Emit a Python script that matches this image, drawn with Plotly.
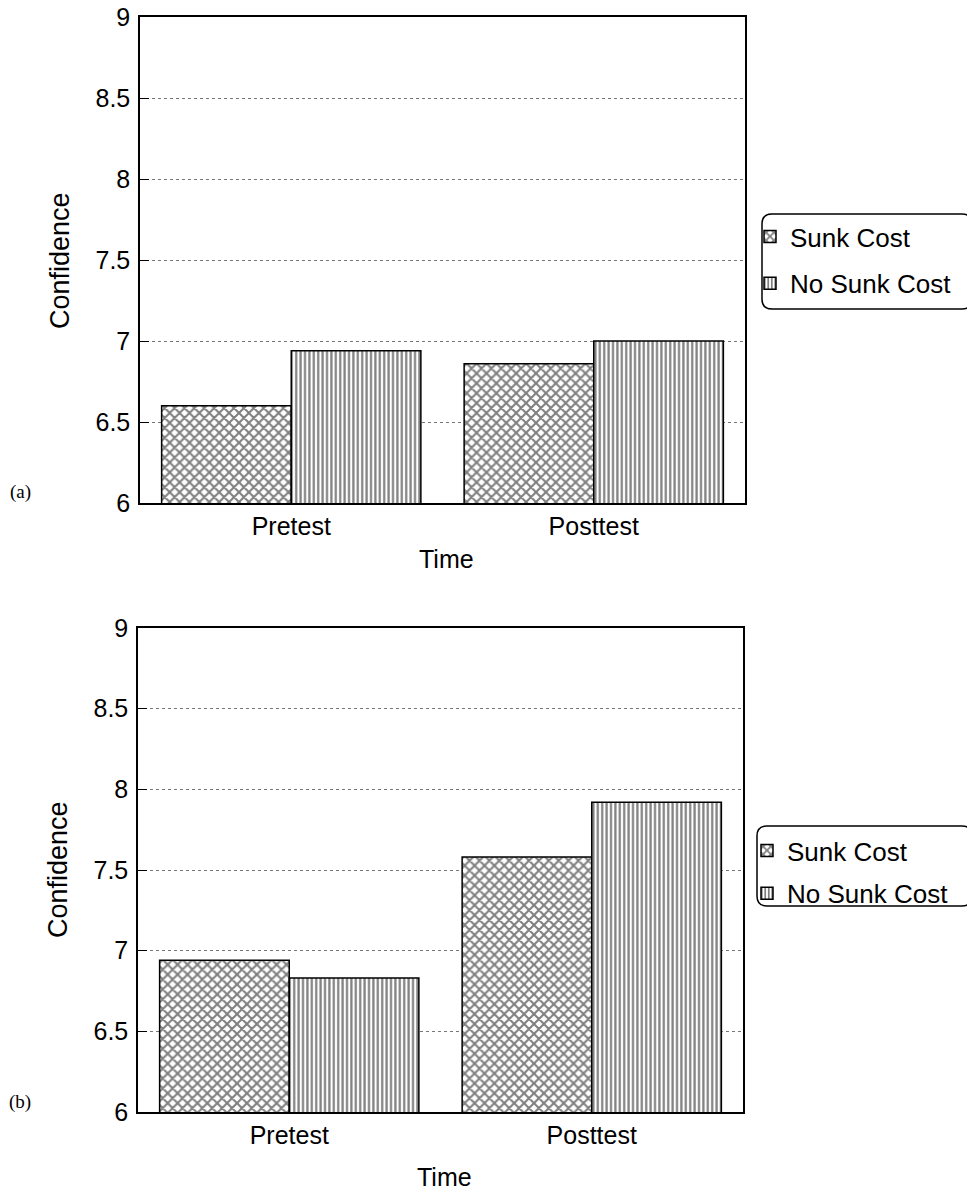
import plotly.graph_objects as go

# page body has an 8px margin; figure sized to fill the rest of the 975x1191 window
OFF = 8
W, H = 975 - OFF, 1191 - OFF

categories = ["Pretest", "Posttest"]
series_names = ["Sunk Cost", "No Sunk Cost"]
a_sunk = [6.60, 6.86]
a_nosunk = [6.94, 7.00]
b_sunk = [6.94, 7.58]
b_nosunk = [6.83, 7.92]
y_ticks = [6, 6.5, 7, 7.5, 8, 8.5, 9]
y_tick_labels = ["6", "6.5", "7", "7.5", "8", "8.5", "9"]

FONT = "Liberation Sans, Arial, sans-serif"

def px(x):
    return (x - OFF) / W

def py(y):
    return 1 - (y - OFF) / H

patterns = [dict(shape="x", fgcolor="black", bgcolor="white", size=7, solidity=0.5),
            dict(shape="|", fgcolor="black", bgcolor="white", size=4.4, solidity=0.5)]

fig = go.Figure()
for panel, (vals, xa, ya, lg) in enumerate([((a_sunk, a_nosunk), "x", "y", "legend"),
                                            ((b_sunk, b_nosunk), "x2", "y2", "legend2")]):
    for i, (name, v) in enumerate(zip(series_names, vals)):
        fig.add_trace(go.Bar(
            x=categories, y=v, name=name, xaxis=xa, yaxis=ya, legend=lg,
            legendgroup=f"{lg}_{i}",
            marker=dict(color="white", pattern=patterns[i],
                        line=dict(color="black", width=1.5)),
        ))

axis_common_y = dict(range=[6, 9], tickvals=y_ticks, ticktext=y_tick_labels,
                     showgrid=True, gridcolor="#777", griddash="dot", gridwidth=1,
                     showline=True, linecolor="black", linewidth=1.5, mirror=True,
                     ticks="inside", ticklen=9, tickcolor="black",
                     ticklabelstandoff=3, automargin=False, ticklabeloverflow="allow",
                     tickfont=dict(family=FONT, size=25, color="black"), zeroline=False)
axis_common_x = dict(showline=True, linecolor="black", linewidth=1.5, mirror=True,
                     ticks="", tickfont=dict(family=FONT, size=25, color="black"),
                     ticklabelstandoff=0, automargin=False, showgrid=False)

leg_common = dict(xanchor="left", yanchor="top",
                  font=dict(family=FONT, size=26, color="black"),
                  bgcolor="rgba(0,0,0,0)", itemwidth=30, traceorder="grouped",
                  borderwidth=0)

fig.update_layout(
    width=W, height=H, margin=dict(l=0, r=0, t=0, b=0, autoexpand=False),
    paper_bgcolor="white", plot_bgcolor="white",
    barmode="group", bargap=0.143, bargroupgap=0,
    xaxis=dict(domain=[px(140), px(745)], anchor="y", **axis_common_x),
    yaxis=dict(domain=[py(503), py(17)], anchor="x", **axis_common_y),
    xaxis2=dict(domain=[px(138), px(743)], anchor="y2", **axis_common_x),
    yaxis2=dict(domain=[py(1112), py(628)], anchor="x2", **axis_common_y),
    legend=dict(x=px(750), y=py(213), tracegroupgap=10, **leg_common),
    legend2=dict(x=px(747), y=py(827), tracegroupgap=6, **leg_common),
    showlegend=True,
)

def rounded_rect(x0, y0, x1, y1, r):
    X = lambda v: f"{px(v):.5f}"
    Y = lambda v: f"{py(v):.5f}"
    p = (f"M {X(x0+r)},{Y(y0)} L {X(x1-r)},{Y(y0)} Q {X(x1)},{Y(y0)} {X(x1)},{Y(y0+r)} "
         f"L {X(x1)},{Y(y1-r)} Q {X(x1)},{Y(y1)} {X(x1-r)},{Y(y1)} "
         f"L {X(x0+r)},{Y(y1)} Q {X(x0)},{Y(y1)} {X(x0)},{Y(y1-r)} "
         f"L {X(x0)},{Y(y0+r)} Q {X(x0)},{Y(y0)} {X(x0+r)},{Y(y0)} Z")
    return dict(type="path", path=p, xref="paper", yref="paper",
                line=dict(color="black", width=1.5), fillcolor="rgba(0,0,0,0)")

fig.add_shape(**rounded_rect(762, 214, 972, 309, 10))
fig.add_shape(**rounded_rect(757, 826, 972, 906, 10))

for text, x, y, ang, sz in [("Confidence", 60, 261, -90, 27), ("Time", 446, 559, 0, 25),
                            ("Confidence", 58, 870, -90, 27), ("Time", 444, 1177, 0, 25)]:
    fig.add_annotation(text=text, x=px(x), y=py(y), xref="paper", yref="paper",
                       showarrow=False, textangle=ang,
                       font=dict(family=FONT, size=sz, color="black"),
                       xanchor="center", yanchor="middle")
for text, x, y in [("(a)", 20, 492), ("(b)", 20, 1102)]:
    fig.add_annotation(text=text, x=px(x), y=py(y), xref="paper", yref="paper",
                       showarrow=False, font=dict(family="Liberation Serif, serif", size=19, color="black"),
                       xanchor="center", yanchor="middle")

fig.write_html("out.html")
